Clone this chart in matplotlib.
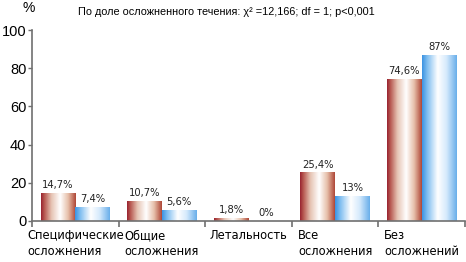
import matplotlib
matplotlib.use('Agg')
import matplotlib.pyplot as plt
import numpy as np
from matplotlib.colors import LinearSegmentedColormap

categories = ["Специфические\nосложнения", "Общие\nосложнения", "Летальность",
              "Все\nосложнения", "Без\nосложнений"]
group_a = [14.7, 10.7, 1.8, 25.4, 74.6]
group_b = [7.4, 5.6, 0.0, 13.0, 87.0]
labels_a = ["14,7%", "10,7%", "1,8%", "25,4%", "74,6%"]
labels_b = ["7,4%", "5,6%", "0%", "13%", "87%"]
yticks = [0, 20, 40, 60, 80, 100]
title = "По доле осложненного течения: χ² =12,166; df = 1; p<0,001"

narrow = ['DejaVu Sans']
plain = ['Liberation Sans', 'DejaVu Sans']

red_cmap = LinearSegmentedColormap.from_list("red", [
    (0.0, '#982230'), (0.1, '#b85a52'), (0.3, '#e6c4b4'), (0.55, '#ffffff'),
    (0.78, '#e6bea8'), (1.0, '#ae4636')])
blue_cmap = LinearSegmentedColormap.from_list("blue", [
    (0.0, '#3a92e2'), (0.15, '#80bef0'), (0.45, '#ffffff'), (0.7, '#d6eafc'),
    (1.0, '#68aeea')])

fig = plt.figure(figsize=(4.66, 2.62), dpi=100)
ax = fig.add_axes([32 / 466, 41 / 262, 433 / 466, 191 / 262])

x = np.arange(len(categories))
w = 0.4
bars_a = ax.bar(x - w / 2, group_a, width=w, color='none', edgecolor='none')
bars_b = ax.bar(x + w / 2, group_b, width=w, color='none', edgecolor='none')

# gradient fill clipped to each bar
grad = np.linspace(0, 1, 256).reshape(1, -1)
for bars, cmap in ((bars_a, red_cmap), (bars_b, blue_cmap)):
    for p in bars:
        if p.get_height() <= 0:
            continue
        x0, y0 = p.get_x(), p.get_y()
        im = ax.imshow(grad, cmap=cmap, aspect='auto', interpolation='bilinear',
                       extent=(x0, x0 + p.get_width(), y0, y0 + p.get_height()),
                       zorder=2)
        im.set_clip_path(p)

for i in range(len(categories)):
    ax.text(x[i] - w / 2, group_a[i] + 1.5, labels_a[i], ha='center', va='bottom',
            fontsize=8, family=narrow, fontstretch='condensed', color='#222222')
    ax.text(x[i] + w / 2, group_b[i] + 1.5, labels_b[i], ha='center', va='bottom',
            fontsize=8, family=narrow, fontstretch='condensed', color='#222222')

ax.set_xlim(-0.5, len(categories) - 0.5)
ax.set_ylim(0, 100)

for s in ['top', 'right']:
    ax.spines[s].set_visible(False)
for s in ['left', 'bottom']:
    ax.spines[s].set_color('#707070')
    ax.spines[s].set_linewidth(1.2)

ax.set_yticks(yticks)
ax.set_yticklabels([str(v) for v in yticks], family=plain, fontsize=10.5)
ax.tick_params(axis='y', length=3, width=1, color='#707070', pad=1)

ax.set_xticks(x)
ax.set_xticklabels(categories, family=narrow, fontstretch='condensed', fontsize=9.2,
                   ha='center', multialignment='left', linespacing=1.3)
ax.tick_params(axis='x', which='major', length=0, pad=6)
ax.set_xticks(np.arange(len(categories) + 1) - 0.5, minor=True)
ax.tick_params(axis='x', which='minor', length=4, width=1.2, color='#707070')

fig.text(29 / 466, 1 - 8 / 262, "%", ha='center', va='center', family=plain, fontsize=10)
fig.text(78 / 466, 1 - 12 / 262, title, ha='left', va='center', family=plain, fontsize=7.8)

fig.savefig("out.png", dpi=100)
